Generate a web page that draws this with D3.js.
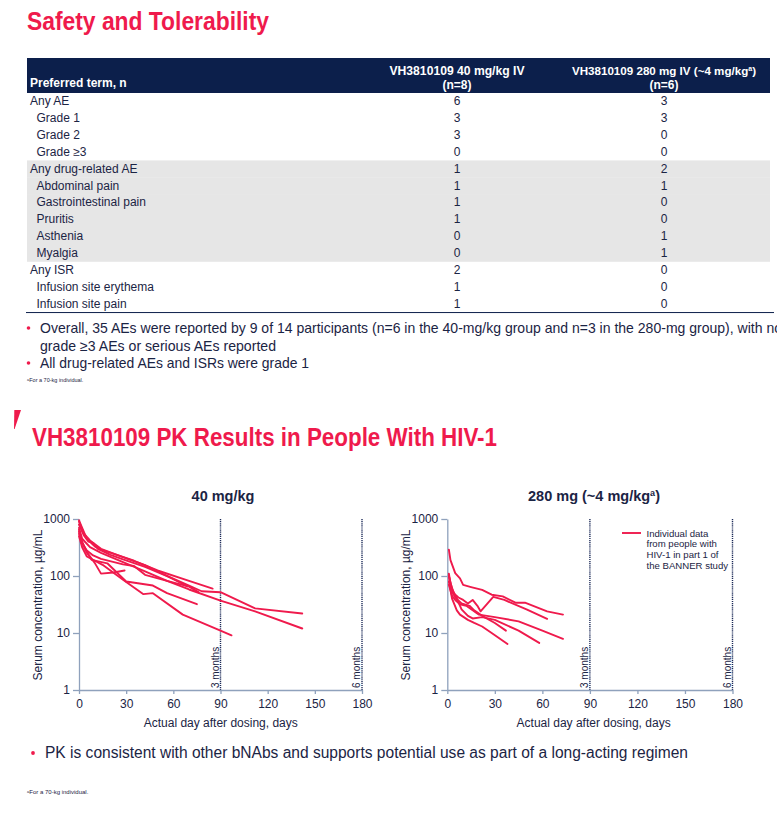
<!DOCTYPE html>
<html><head><meta charset="utf-8">
<script src="https://cdn.jsdelivr.net/npm/d3@7"></script>
<style>html,body{margin:0;padding:0;background:#fff;}svg{display:block;}</style>
</head><body>
<script>
// ---------- DATA ----------
const tableTerms = ["Any AE","Grade 1","Grade 2","Grade \u22653","Any drug-related AE","Abdominal pain","Gastrointestinal pain","Pruritis","Asthenia","Myalgia","Any ISR","Infusion site erythema","Infusion site pain"];
const termLevel = [0,1,1,1,0,1,1,1,1,1,0,1,1];
const group40 = [6,3,3,0,1,1,1,1,0,0,2,1,1];
const group280 = [3,3,0,0,2,1,0,0,1,1,0,0,0];
const shadedRows = [4,5,6,7,8,9];

const xTicks = [0,30,60,90,120,150,180];
const yTicks = [1,10,100,1000];
const markerDays = [90,180];
const markerLabels = ["3 months","6 months"];

const pk40 = [
  [[0,950],[2,700],[5,450],[10,330],[14,290],[25,230],[35,185],[50,125],[70,82],[85,60]],
  [[0,800],[3,520],[6,400],[9,380],[12,300],[20,235],[28,195],[42,145],[56,100],[70,68],[78,54],[90,52],[112,27],[142,22]],
  [[0,700],[2,450],[7,320],[14,255],[28,175],[42,120],[56,82],[70,58],[90,37],[112,24],[142,12]],
  [[0,600],[2,380],[5,260],[8,192],[18,167],[30,80],[47,68],[56,50],[75,32]],
  [[0,500],[2,320],[5,220],[15,157],[28,86],[41,48],[47,50],[66,21],[90,11],[97,9.1]],
  [[0,650],[2,400],[5,260],[10,170],[14,110],[22,115],[29,125]],
  [[0,900],[3,560],[7,420],[14,300],[28,215],[42,155],[56,100],[69,66]],
  [[0,550],[2,380],[5,280],[9,230],[14,200],[28,160],[35,150],[42,105],[56,82],[70,65],[76,52]]
];
const pk280 = [
  [[1,290],[2,190],[5,112],[8,91],[10,70],[15,64],[22,57],[28,47],[35,44],[43,34],[49,34],[63,24],[73,21]],
  [[1,110],[2,75],[4,50],[7,42],[10,38],[13,33],[16,38],[19,30],[21,24],[29,43],[36,38],[50,26],[63,17.7]],
  [[1,70],[3,45],[5,38],[8,32],[12,30],[16,25],[20,21],[30,19],[45,16],[60,11],[73,7.9]],
  [[1,100],[3,60],[6,40],[9,26],[13,20],[16,18],[22,19],[30,17],[45,11],[58,6.7]],
  [[1,80],[3,40],[6,25],[8,21],[13,17],[17,15],[22,13],[28,10],[38,6.4]],
  [[1,105],[2,60],[5,42],[9,33],[14,30],[17,25],[22,20],[30,15],[37,11]]
];

// ---------- STYLE ----------
const RED = "#EF1A4C", NAVY = "#0C1F4B", TXT = "#1B2444", AXIS = "#8FA1BC", SHADE = "#E6E6E6";
const narrow = "'Liberation Sans Narrow','Arial Narrow',Arial,sans-serif";
const sans = "'Liberation Sans',Arial,Helvetica,sans-serif";

const svg = d3.select("body").append("svg").attr("width",777).attr("height",821);
svg.append("rect").attr("width",777).attr("height",821).attr("fill","#fff");

function txt(g, x, y, s, o) {
  o = o || {};
  const t = g.append("text").attr("x",x).attr("y",y).text(s)
    .attr("font-family", o.family || sans)
    .attr("font-size", o.size || 12)
    .attr("font-weight", o.weight || "normal")
    .attr("fill", o.fill || TXT)
    .attr("text-anchor", o.anchor || "start");
  if (o.len) t.attr("textLength", o.len).attr("lengthAdjust","spacingAndGlyphs");
  return t;
}

// ---------- SLIDE 1 ----------
txt(svg, 27, 29.5, "Safety and Tolerability", {family:narrow, size:25, weight:"bold", fill:RED, len:242});

const tblX = 27, tblW = 743, rowTop0 = 93, rowH = 16.85;
svg.append("rect").attr("x",tblX).attr("y",58).attr("width",tblW).attr("height",35).attr("fill",NAVY);
txt(svg, 30, 87, "Preferred term, n", {size:12, weight:"bold", fill:"#fff"});
const col1 = 457, col2 = 664;
txt(svg, col1, 75, "VH3810109 40 mg/kg IV", {size:12, weight:"bold", fill:"#fff", anchor:"middle", len:135});
txt(svg, col1, 88.5, "(n=8)", {size:12, weight:"bold", fill:"#fff", anchor:"middle"});
const h2 = svg.append("text").attr("x",col2).attr("y",75).attr("text-anchor","middle")
  .attr("font-family",sans).attr("font-size",11.6).attr("font-weight","bold").attr("fill","#fff");
h2.append("tspan").text("VH3810109 280 mg IV (~4 mg/kg");
h2.append("tspan").text("a").attr("font-size",7).attr("dy",-4);
h2.append("tspan").text(")").attr("dy",4);
txt(svg, col2, 88.5, "(n=6)", {size:12, weight:"bold", fill:"#fff", anchor:"middle"});

shadedRows.forEach(i => {
  svg.append("rect").attr("x",tblX).attr("y",rowTop0 + i*rowH).attr("width",tblW).attr("height",rowH+0.3).attr("fill",SHADE);
});
tableTerms.forEach((t,i) => {
  const yb = rowTop0 + i*rowH + 12.3;
  txt(svg, termLevel[i] ? 36.5 : 30, yb, t, {size:12});
  txt(svg, col1, yb, String(group40[i]), {size:12, anchor:"middle"});
  txt(svg, col2, yb, String(group280[i]), {size:12, anchor:"middle"});
});
svg.append("line").attr("x1",tblX-1).attr("x2",tblX+tblW+4)
  .attr("y1",rowTop0 + 13*rowH + 0.5).attr("y2",rowTop0 + 13*rowH + 0.5)
  .attr("stroke",NAVY).attr("stroke-width",1);

function bullet(x, y, size) {
  svg.append("circle").attr("cx",x).attr("cy",y).attr("r",size).attr("fill",RED);
}
bullet(28.5, 328, 1.8);
txt(svg, 40, 333, "Overall, 35 AEs were reported by 9 of 14 participants (n=6 in the 40-mg/kg group and n=3 in the 280-mg group), with no", {family:narrow, size:14.5, len:742});
txt(svg, 40, 350.5, "grade \u22653 AEs or serious AEs reported", {family:narrow, size:14.5, len:236});
bullet(28.5, 363, 1.8);
txt(svg, 40, 368, "All drug-related AEs and ISRs were grade 1", {family:narrow, size:14.5, len:269});
const fn1 = svg.append("text").attr("x",27).attr("y",382).attr("font-family",narrow).attr("font-size",5.5).attr("fill",TXT);
fn1.append("tspan").text("a").attr("font-size",4).attr("dy",-1.5);
fn1.append("tspan").text("For a 70-kg individual.").attr("dy",1.5);

// ---------- SLIDE 2 ----------
svg.append("path").attr("d","M14.3,410 L21,410 L14.6,429 L14,429 Z").attr("fill",RED);
txt(svg, 32, 445.5, "VH3810109 PK Results in People With HIV-1", {family:narrow, size:25, weight:"bold", fill:RED, len:465});

function chart(cfg) {
  const g = svg.append("g");
  const x = d3.scaleLinear().domain([0,180]).range([cfg.x0, cfg.x1]);
  const y = d3.scaleLog().domain([1,1000]).range([690, 519]);

  // title
  const tt = g.append("text").attr("x",cfg.titleX).attr("y",501).attr("text-anchor","middle")
    .attr("font-family",sans).attr("font-size",14.5).attr("font-weight","bold").attr("fill",TXT);
  cfg.title.forEach(p => {
    const ts = tt.append("tspan").text(p.t);
    if (p.sup) ts.attr("font-size",9).attr("dy",-5);
    if (p.after) ts.attr("dy",5);
  });

  // markers
  markerDays.forEach((d,i) => {
    g.append("line").attr("x1",x(d)).attr("x2",x(d)).attr("y1",519).attr("y2",690)
      .attr("stroke","#1C2A58").attr("stroke-width",1.4).attr("stroke-dasharray","1.2,0.9");
    g.append("text").attr("transform",`translate(${x(d)-2},688) rotate(-90)`)
      .attr("font-family",sans).attr("font-size",10).attr("fill",TXT).text(markerLabels[i]);
  });

  // axes
  const ya = g.append("g").attr("transform",`translate(${cfg.x0},0)`)
    .call(d3.axisLeft(y).tickValues(yTicks).tickFormat(d3.format("d")).tickSize(6).tickSizeOuter(0).tickPadding(3));
  const xa = g.append("g").attr("transform","translate(0,690)")
    .call(d3.axisBottom(x).tickValues(xTicks).tickSize(4).tickSizeOuter(0).tickPadding(5));
  [ya, xa].forEach(a => {
    a.select(".domain").attr("stroke",AXIS).attr("stroke-width",1.3);
    a.selectAll(".tick line").attr("stroke",AXIS).attr("stroke-width",1.3);
    a.selectAll(".tick text").attr("font-family",sans).attr("font-size",12).attr("fill",TXT);
  });

  g.append("text").attr("x",(cfg.x0+x(90))/2 + cfg.xtOff).attr("y",726.5).attr("text-anchor","middle")
    .attr("font-family",sans).attr("font-size",12).attr("fill",TXT).text("Actual day after dosing, days");
  g.append("text").attr("transform",`translate(${cfg.x0-37},605) rotate(-90)`).attr("text-anchor","middle")
    .attr("font-family",sans).attr("font-size",12).attr("fill",TXT).text("Serum concentration, \u00b5g/mL");

  const line = d3.line().x(d => x(d[0])).y(d => y(d[1]));
  cfg.data.forEach(s => {
    g.append("path").attr("d",line(s)).attr("fill","none").attr("stroke",RED)
      .attr("stroke-width",1.9).attr("stroke-linejoin","round").attr("stroke-linecap","round");
  });
  return {g, x, y};
}

chart({x0:79, x1:362, titleX:223, xtOff:71, title:[{t:"40 mg/kg"}], data:pk40});
const c2 = chart({x0:447.3, x1:732.5, titleX:594, xtOff:75,
  title:[{t:"280 mg (~4 mg/kg"},{t:"a",sup:true},{t:")",after:true}], data:pk280});

// legend
svg.append("line").attr("x1",622).attr("x2",641).attr("y1",533).attr("y2",533).attr("stroke",RED).attr("stroke-width",1.9);
["Individual data","from people with","HIV-1 in part 1 of","the BANNER study"].forEach((s,i) => {
  txt(svg, 646.5, 536.5 + i*10.8, s, {size:9.6});
});

bullet(33, 753, 1.9);
txt(svg, 45, 758, "PK is consistent with other bNAbs and supports potential use as part of a long-acting regimen", {family:narrow, size:16, len:643});
const fn2 = svg.append("text").attr("x",27).attr("y",794).attr("font-family",narrow).attr("font-size",6).attr("fill",TXT);
fn2.append("tspan").text("a").attr("font-size",4.2).attr("dy",-1.5);
fn2.append("tspan").text("For a 70-kg individual.").attr("dy",1.5);
</script>
</body></html>
